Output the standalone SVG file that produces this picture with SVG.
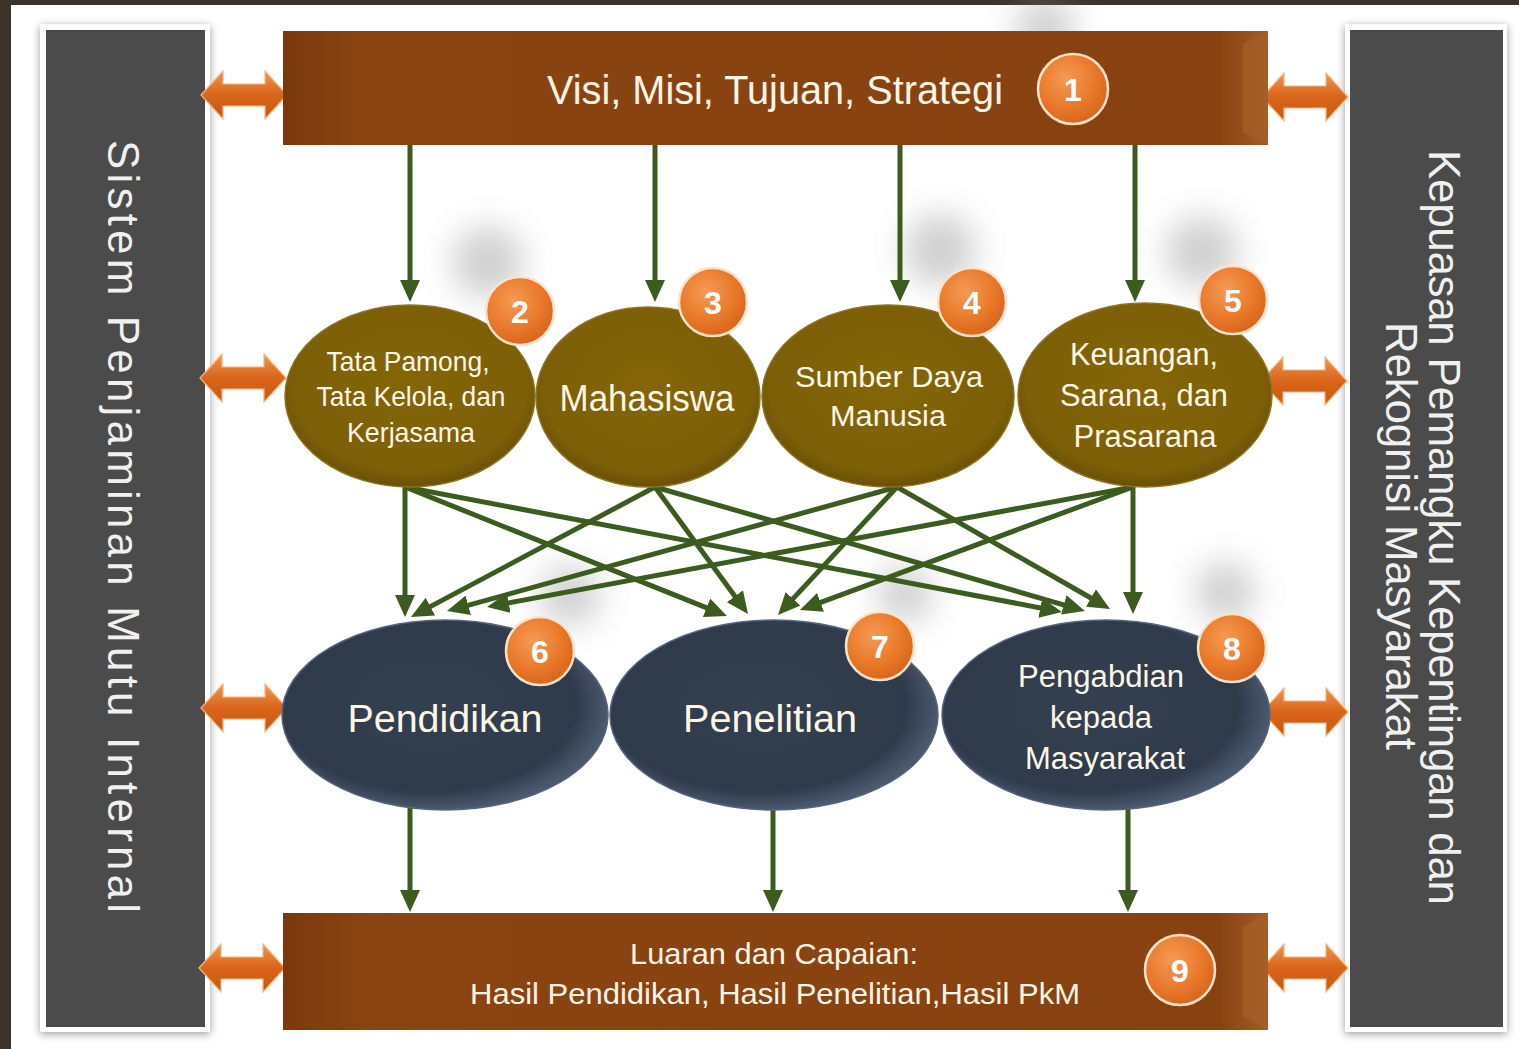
<svg xmlns="http://www.w3.org/2000/svg" width="1519" height="1049" viewBox="0 0 1519 1049">
<style>
.lbl{font-family:"Liberation Sans",Arial,sans-serif;fill:#fdf6e6;text-anchor:middle}
.num{font-family:"Liberation Sans",Arial,sans-serif;font-weight:bold;fill:#ffffff;font-size:32px;text-anchor:middle}
.conn{stroke:#3c5b1f;stroke-width:5;fill:none;marker-end:url(#ah)}
.side{font-family:"Liberation Sans",Arial,sans-serif;fill:#f0f0f0;font-size:44px}
.olive{fill:url(#gOlive);stroke:#8c7420;stroke-width:1.5}
.navy{fill:url(#gNavy);stroke:#56657c;stroke-width:1.5}
.brown{fill:url(#gBrown)}
.badge{fill:url(#gBadge);stroke:#fde3cc;stroke-width:2.5}
.dbl{fill:url(#gDbl);stroke:#f6b67e;stroke-width:1.2}
.shd{fill:#8a8a8a;opacity:0.4;filter:url(#blur)}
</style>
<defs>
<marker id="ah" markerUnits="userSpaceOnUse" markerWidth="22" markerHeight="20" viewBox="0 0 22 20" refX="7" refY="10" orient="auto">
<path d="M0,0 L22,10 L0,20 Z" fill="#3c5b1f"/>
</marker>
<linearGradient id="gBrown" x1="0" y1="0" x2="1" y2="0">
<stop offset="0" stop-color="#7a380c"/>
<stop offset="0.08" stop-color="#8a4412"/>
<stop offset="0.95" stop-color="#884211"/>
<stop offset="1" stop-color="#a45c27"/>
</linearGradient>
<radialGradient id="gOlive" cx="0.5" cy="0.45" r="0.55">
<stop offset="0" stop-color="#846608"/>
<stop offset="0.85" stop-color="#7c5f07"/>
<stop offset="1" stop-color="#6a5006"/>
</radialGradient>
<radialGradient id="gNavy" cx="0.45" cy="0.45" r="0.55">
<stop offset="0" stop-color="#34404f"/>
<stop offset="0.82" stop-color="#2f3a4b"/>
<stop offset="1" stop-color="#4a586d"/>
</radialGradient>
<radialGradient id="gBadge" cx="0.4" cy="0.35" r="0.65">
<stop offset="0" stop-color="#f59a55"/>
<stop offset="0.6" stop-color="#ea7b2c"/>
<stop offset="1" stop-color="#d9661d"/>
</radialGradient>
<linearGradient id="gDbl" x1="0" y1="0" x2="0" y2="1">
<stop offset="0" stop-color="#ef9650"/>
<stop offset="0.5" stop-color="#d9651a"/>
<stop offset="1" stop-color="#c85810"/>
</linearGradient>
<filter id="blur" x="-80%" y="-80%" width="260%" height="260%">
<feGaussianBlur stdDeviation="16"/>
</filter>
<filter id="drop" x="-10%" y="-5%" width="120%" height="110%">
<feGaussianBlur in="SourceAlpha" stdDeviation="4"/>
<feOffset dx="0" dy="2" result="b"/>
<feComponentTransfer><feFuncA type="linear" slope="0.4"/></feComponentTransfer>
<feMerge><feMergeNode/><feMergeNode in="SourceGraphic"/></feMerge>
</filter>
<path id="dblShape" d="M-43,0 L-21,-24 L-21,-11 L21,-11 L21,-24 L43,0 L21,24 L21,11 L-21,11 L-21,24 Z"/>
</defs>

<rect x="0" y="0" width="1519" height="1049" fill="#3b3428"/>
<rect x="11" y="5" width="1508" height="1044" fill="#ffffff"/>

<!-- decorative shadows -->
<g id="shadows">
<circle class="shd" cx="1045" cy="28" r="30"/>
<circle class="shd" cx="488" cy="262" r="36"/>
<circle class="shd" cx="940" cy="250" r="36"/>
<circle class="shd" cx="1202" cy="252" r="36"/>
<circle class="shd" cx="570" cy="596" r="30"/>
<circle class="shd" cx="905" cy="594" r="28"/>
<circle class="shd" cx="1225" cy="592" r="30"/>
</g>

<!-- side panels -->
<g id="panel-left">
<rect x="40" y="24" width="170" height="1008" fill="#ffffff" filter="url(#drop)"/>
<rect x="46" y="30" width="159" height="997" fill="#4b4b4b"/>
<text class="side" transform="translate(108,140) rotate(90)" textLength="773" lengthAdjust="spacing">Sistem Penjaminan Mutu Internal</text>
</g>
<g id="panel-right">
<rect x="1345" y="24" width="162" height="1008" fill="#ffffff" filter="url(#drop)"/>
<rect x="1350" y="30" width="153" height="997" fill="#4b4b4b"/>
<text class="side" transform="translate(1429,150) rotate(90)" textLength="755" lengthAdjust="spacing">Kepuasan Pemangku Kepentingan dan</text>
<text class="side" transform="translate(1386,322) rotate(90)" textLength="428" lengthAdjust="spacing">Rekognisi Masyarakat</text>
</g>

<!-- connectors -->
<g id="connectors">
<line class="conn" x1="410" y1="145" x2="410" y2="287"/>
<line class="conn" x1="655" y1="145" x2="655" y2="287"/>
<line class="conn" x1="900" y1="145" x2="900" y2="287"/>
<line class="conn" x1="1135" y1="145" x2="1135" y2="287"/>

<line class="conn" x1="405" y1="480" x2="405" y2="602"/>
<line class="conn" x1="405" y1="487" x2="713" y2="610.4"/>
<line class="conn" x1="405" y1="487" x2="1047.2" y2="609.2"/>
<line class="conn" x1="655" y1="487" x2="424.2" y2="609.9"/>
<line class="conn" x1="655" y1="487" x2="739.1" y2="601.9"/>
<line class="conn" x1="655" y1="487" x2="1070.5" y2="606.8"/>
<line class="conn" x1="897" y1="487" x2="461.5" y2="607.1"/>
<line class="conn" x1="897" y1="487" x2="788.2" y2="603.9"/>
<line class="conn" x1="897" y1="487" x2="1097" y2="601.5"/>
<line class="conn" x1="1133" y1="487" x2="501.8" y2="604.2"/>
<line class="conn" x1="1133" y1="487" x2="814" y2="604.8"/>
<line class="conn" x1="1133" y1="480" x2="1133" y2="599"/>

<line class="conn" x1="410" y1="805" x2="410" y2="897"/>
<line class="conn" x1="773" y1="805" x2="773" y2="897"/>
<line class="conn" x1="1128" y1="805" x2="1128" y2="897"/>

<use href="#dblShape" class="dbl" x="244" y="95"/>
<use href="#dblShape" class="dbl" x="243" y="378"/>
<use href="#dblShape" class="dbl" x="244" y="708"/>
<use href="#dblShape" class="dbl" x="242" y="968"/>
<use href="#dblShape" class="dbl" x="1305" y="97"/>
<use href="#dblShape" class="dbl" x="1304" y="381"/>
<use href="#dblShape" class="dbl" x="1305" y="712"/>
<use href="#dblShape" class="dbl" x="1305" y="968"/>
</g>

<!-- node 1 -->
<g id="n1">
<rect class="brown" x="283" y="31" width="985" height="114"/>
<polygon points="1243,44 1268,31 1268,145 1243,132" fill="#a65f2a" opacity="0.7"/>
<text class="lbl" x="775" y="104" font-size="40" textLength="456" lengthAdjust="spacingAndGlyphs">Visi, Misi, Tujuan, Strategi</text>
<circle class="badge" cx="1073" cy="89" r="35"/>
<text class="num" x="1073" y="101">1</text>
</g>

<!-- row 2 -->
<g id="n2">
<ellipse class="olive" cx="410" cy="396" rx="125" ry="91"/>
<text class="lbl" x="408" y="371" font-size="28" textLength="163" lengthAdjust="spacingAndGlyphs">Tata Pamong,</text>
<text class="lbl" x="411" y="406" font-size="28" textLength="189" lengthAdjust="spacingAndGlyphs">Tata Kelola, dan</text>
<text class="lbl" x="411" y="442" font-size="28" textLength="128" lengthAdjust="spacingAndGlyphs">Kerjasama</text>
<circle class="badge" cx="520" cy="311" r="34"/>
<text class="num" x="520" y="323">2</text>
</g>
<g id="n3">
<ellipse class="olive" cx="648" cy="397" rx="112" ry="90"/>
<text class="lbl" x="647" y="411" font-size="36" textLength="175" lengthAdjust="spacingAndGlyphs">Mahasiswa</text>
<circle class="badge" cx="713" cy="302" r="34"/>
<text class="num" x="713" y="314">3</text>
</g>
<g id="n4">
<ellipse class="olive" cx="888" cy="396" rx="126" ry="91"/>
<text class="lbl" x="889" y="387" font-size="30" textLength="188" lengthAdjust="spacingAndGlyphs">Sumber Daya</text>
<text class="lbl" x="888" y="426" font-size="30" textLength="116" lengthAdjust="spacingAndGlyphs">Manusia</text>
<circle class="badge" cx="972" cy="302" r="34"/>
<text class="num" x="972" y="314">4</text>
</g>
<g id="n5">
<ellipse class="olive" cx="1145" cy="395" rx="127" ry="92"/>
<text class="lbl" x="1144" y="365" font-size="31" textLength="148" lengthAdjust="spacingAndGlyphs">Keuangan,</text>
<text class="lbl" x="1144" y="406" font-size="31" textLength="168" lengthAdjust="spacingAndGlyphs">Sarana, dan</text>
<text class="lbl" x="1145" y="447" font-size="31" textLength="143" lengthAdjust="spacingAndGlyphs">Prasarana</text>
<circle class="badge" cx="1233" cy="300" r="34"/>
<text class="num" x="1233" y="312">5</text>
</g>

<!-- row 3 -->
<g id="n6">
<ellipse class="navy" cx="445" cy="715" rx="163" ry="95"/>
<text class="lbl" x="445" y="732" font-size="38" textLength="195" lengthAdjust="spacingAndGlyphs">Pendidikan</text>
<circle class="badge" cx="540" cy="651" r="34"/>
<text class="num" x="540" y="663">6</text>
</g>
<g id="n7">
<ellipse class="navy" cx="774" cy="715" rx="164" ry="95"/>
<text class="lbl" x="770" y="732" font-size="38" textLength="174" lengthAdjust="spacingAndGlyphs">Penelitian</text>
<circle class="badge" cx="880" cy="646" r="34"/>
<text class="num" x="880" y="658">7</text>
</g>
<g id="n8">
<ellipse class="navy" cx="1106" cy="715" rx="164" ry="95"/>
<text class="lbl" x="1101" y="687" font-size="31" textLength="166" lengthAdjust="spacingAndGlyphs">Pengabdian</text>
<text class="lbl" x="1101" y="728" font-size="31" textLength="102" lengthAdjust="spacingAndGlyphs">kepada</text>
<text class="lbl" x="1105" y="769" font-size="31" textLength="160" lengthAdjust="spacingAndGlyphs">Masyarakat</text>
<circle class="badge" cx="1232" cy="648" r="34"/>
<text class="num" x="1232" y="660">8</text>
</g>

<!-- node 9 -->
<g id="n9">
<rect class="brown" x="283" y="913" width="985" height="117"/>
<polygon points="1243,927 1268,913 1268,1030 1243,1016" fill="#a65f2a" opacity="0.7"/>
<text class="lbl" x="774" y="964" font-size="30" textLength="288" lengthAdjust="spacingAndGlyphs">Luaran dan Capaian:</text>
<text class="lbl" x="775" y="1004" font-size="30" textLength="610" lengthAdjust="spacingAndGlyphs">Hasil Pendidikan, Hasil Penelitian,Hasil PkM</text>
<circle class="badge" cx="1180" cy="970" r="35"/>
<text class="num" x="1180" y="982">9</text>
</g>
</svg>
